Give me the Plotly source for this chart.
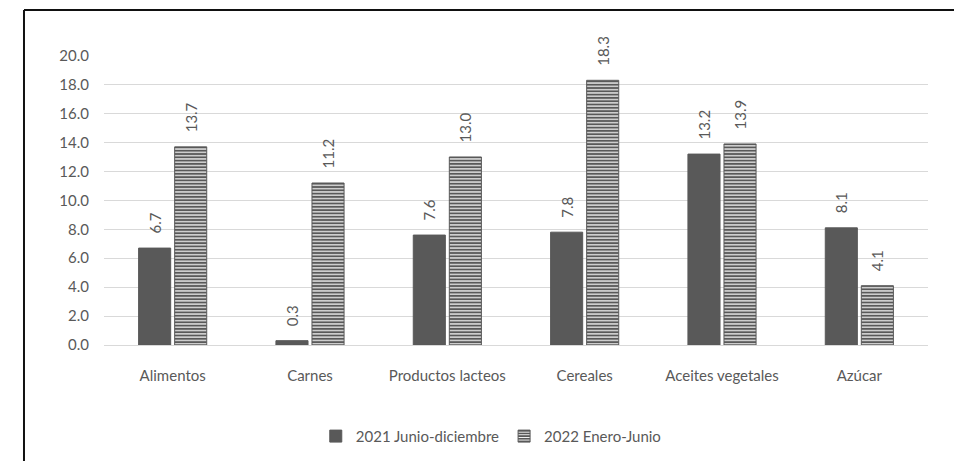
import plotly.graph_objects as go

categories = ["Alimentos", "Carnes", "Productos lacteos", "Cereales", "Aceites vegetales", "Azúcar"]
serie_2021 = [6.7, 0.3, 7.6, 7.8, 13.2, 8.1]
serie_2022 = [13.7, 11.2, 13.0, 18.3, 13.9, 4.1]
name_2021 = "2021 Junio-diciembre"
name_2022 = "2022 Enero-Junio"
y_ticks = [0, 2, 4, 6, 8, 10, 12, 14, 16, 18, 20]

GRAY = "#595959"
FONT = "Lato"
PAD = "\u00a0\u00a0\u00a0"  # lifts the rotated value labels off the bar tops


def labels(values):
    return [PAD + f"{v:.1f}" for v in values]


fig = go.Figure()
fig.add_trace(go.Bar(
    x=categories, y=serie_2021, name=name_2021,
    marker=dict(color=GRAY, line=dict(color=GRAY, width=1)),
    text=labels(serie_2021), textposition="outside", constraintext="none",
    textangle=-90, textfont=dict(color=GRAY, size=15, family=FONT),
    cliponaxis=False,
))
fig.add_trace(go.Bar(
    x=categories, y=serie_2022, name=name_2022,
    marker=dict(color=GRAY, line=dict(color=GRAY, width=1),
                pattern=dict(shape="-", fgcolor="white", bgcolor=GRAY,
                             size=3.3, solidity=0.35, fillmode="replace")),
    text=labels(serie_2022), textposition="outside", constraintext="none",
    textangle=-90, textfont=dict(color=GRAY, size=15, family=FONT),
    cliponaxis=False,
))

# outer frame (top and left edges)
fig.add_shape(type="line", xref="paper", yref="paper",
              x0=-0.0971, x1=1.1, y0=1.155, y1=1.155,
              line=dict(color="#111111", width=2))
fig.add_shape(type="line", xref="paper", yref="paper",
              x0=-0.0971, x1=-0.0971, y0=1.155, y1=-0.45,
              line=dict(color="#111111", width=2))

fig.update_layout(
    width=954, height=461,
    margin=dict(l=104, r=26, t=55, b=116, autoexpand=False),
    paper_bgcolor="white", plot_bgcolor="white",
    barmode="group", bargap=0.475, bargroupgap=0.11,
    font=dict(family=FONT, size=15, color=GRAY),
    showlegend=True,
    legend=dict(orientation="h", x=0.47, xanchor="center", y=-0.315, yanchor="middle",
                font=dict(size=15, color=GRAY, family=FONT),
                traceorder="normal", itemwidth=30),
    xaxis=dict(showgrid=False, showline=False, ticks="", ticklabelstandoff=20,
               automargin=False,
               tickfont=dict(size=15, color=GRAY, family=FONT)),
    yaxis=dict(range=[0, 20.05], tickvals=y_ticks, tickformat=".1f",
               showgrid=True, gridcolor="#d9d9d9", gridwidth=1,
               zeroline=True, zerolinecolor="#d9d9d9", zerolinewidth=1,
               showline=False, ticks="", ticklen=0, ticklabelstandoff=14,
               automargin=False,
               tickfont=dict(size=15, color=GRAY, family=FONT)),
)

fig.write_html("out.html")
